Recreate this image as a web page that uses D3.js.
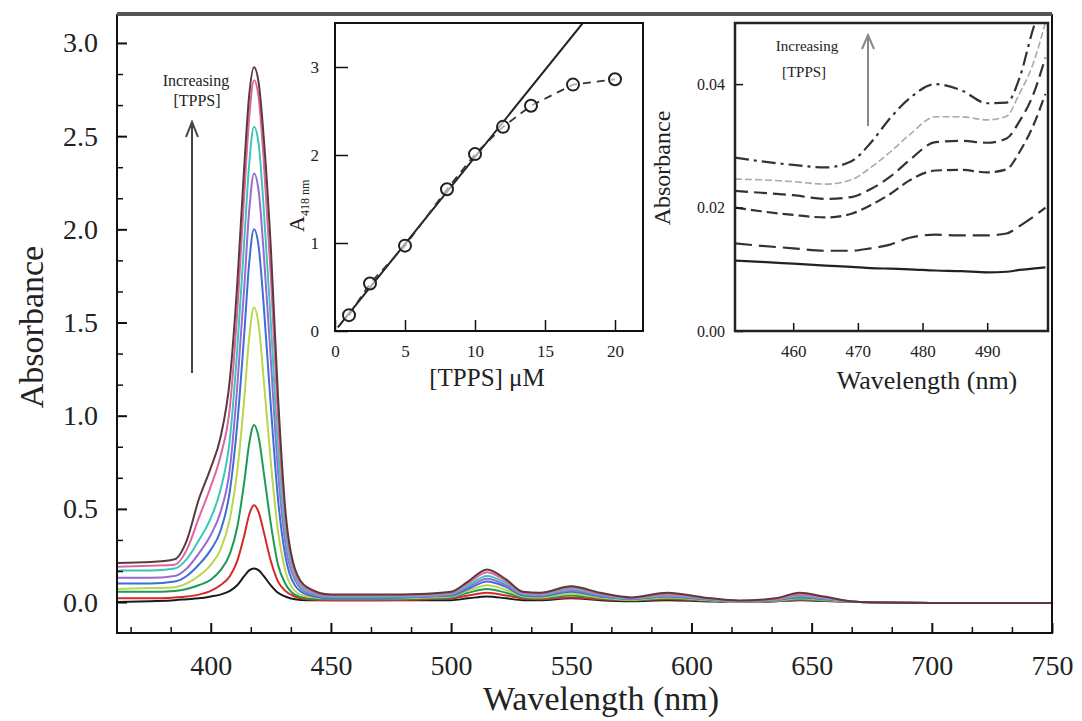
<!DOCTYPE html>
<html><head><meta charset="utf-8">
<script src="https://cdn.jsdelivr.net/npm/d3@7"></script>
<style>
html,body{margin:0;padding:0;background:#fff;}
svg text{font-family:"Liberation Serif","Times New Roman",serif;fill:#222;}
</style></head>
<body>
<svg id="chart" width="1082" height="721"></svg>
<script>
// ---------- DATA ----------
const wavelengths = [361, 375, 385, 390, 395, 400, 404, 408, 411, 414, 416, 418, 420, 422, 425, 428, 431, 435, 440, 450, 470, 490, 500, 507, 515, 523, 530, 537, 550, 562, 575, 590, 605, 620, 635, 645, 655, 670, 700, 750];
const specBlack  = [0.0, 0.005, 0.01, 0.015, 0.02, 0.03, 0.04, 0.06, 0.09, 0.14, 0.17, 0.18, 0.17, 0.14, 0.09, 0.05, 0.03, 0.015, 0.01, 0.01, 0.01, 0.01, 0.01, 0.02, 0.03, 0.02, 0.01, 0.01, 0.02, 0.01, 0.005, 0.01, 0.005, 0.0, 0.004, 0.01, 0.006, 0.0, -0.005, -0.005];
const specRed    = [0.02, 0.02, 0.025, 0.03, 0.04, 0.06, 0.09, 0.14, 0.22, 0.36, 0.47, 0.52, 0.48, 0.38, 0.22, 0.11, 0.06, 0.03, 0.015, 0.01, 0.01, 0.015, 0.02, 0.035, 0.05, 0.035, 0.02, 0.015, 0.025, 0.015, 0.01, 0.015, 0.008, 0.0, 0.005, 0.012, 0.007, 0.0, -0.005, -0.005];
const specGreen  = [0.055, 0.055, 0.06, 0.07, 0.09, 0.12, 0.17, 0.26, 0.4, 0.65, 0.85, 0.95, 0.88, 0.7, 0.42, 0.2, 0.1, 0.04, 0.02, 0.015, 0.015, 0.02, 0.025, 0.05, 0.07, 0.05, 0.025, 0.02, 0.035, 0.02, 0.01, 0.02, 0.01, 0.0, 0.006, 0.015, 0.009, 0.0, -0.005, -0.005];
const specLime   = [0.07, 0.075, 0.08, 0.1, 0.14, 0.2, 0.28, 0.45, 0.7, 1.1, 1.42, 1.58, 1.48, 1.2, 0.75, 0.38, 0.17, 0.06, 0.03, 0.02, 0.02, 0.025, 0.03, 0.06, 0.09, 0.065, 0.03, 0.025, 0.045, 0.025, 0.012, 0.025, 0.012, 0.002, 0.008, 0.02, 0.012, 0.0, -0.005, -0.005];
const specBlue   = [0.1, 0.1, 0.11, 0.14, 0.2, 0.28, 0.38, 0.6, 0.95, 1.45, 1.82, 2.0, 1.9, 1.6, 1.05, 0.55, 0.25, 0.09, 0.04, 0.02, 0.02, 0.03, 0.035, 0.07, 0.11, 0.08, 0.035, 0.03, 0.055, 0.03, 0.015, 0.03, 0.015, 0.003, 0.01, 0.025, 0.015, 0.0, -0.005, -0.005];
const specViolet = [0.13, 0.13, 0.14, 0.18, 0.26, 0.36, 0.48, 0.72, 1.15, 1.7, 2.1, 2.3, 2.2, 1.88, 1.3, 0.7, 0.32, 0.12, 0.05, 0.025, 0.025, 0.03, 0.04, 0.08, 0.125, 0.09, 0.04, 0.035, 0.062, 0.035, 0.018, 0.033, 0.018, 0.004, 0.012, 0.03, 0.018, 0.0, -0.005, -0.005];
const specCyan   = [0.17, 0.17, 0.18, 0.23, 0.33, 0.45, 0.6, 0.88, 1.35, 1.95, 2.35, 2.55, 2.45, 2.12, 1.5, 0.82, 0.38, 0.14, 0.06, 0.03, 0.03, 0.035, 0.045, 0.09, 0.14, 0.1, 0.045, 0.04, 0.07, 0.04, 0.02, 0.037, 0.02, 0.005, 0.014, 0.035, 0.021, 0.0, -0.005, -0.005];
const specPink   = [0.19, 0.195, 0.2, 0.28, 0.45, 0.62, 0.78, 1.05, 1.55, 2.2, 2.6, 2.8, 2.7, 2.38, 1.75, 0.98, 0.45, 0.16, 0.07, 0.035, 0.035, 0.04, 0.05, 0.1, 0.16, 0.11, 0.05, 0.045, 0.078, 0.045, 0.022, 0.042, 0.022, 0.006, 0.016, 0.04, 0.024, 0.0, -0.005, -0.005];
const specBrown  = [0.21, 0.215, 0.23, 0.33, 0.55, 0.72, 0.88, 1.2, 1.7, 2.35, 2.72, 2.87, 2.78, 2.5, 1.9, 1.1, 0.5, 0.18, 0.08, 0.04, 0.04, 0.045, 0.055, 0.11, 0.175, 0.12, 0.055, 0.05, 0.085, 0.05, 0.025, 0.05, 0.025, 0.008, 0.02, 0.05, 0.03, 0.0, -0.005, -0.005];
const spectra = [specBlack, specRed, specGreen, specLime, specBlue, specViolet, specCyan, specPink, specBrown];
const spectraColors = ["#1a1a1a", "#d42a2a", "#1e9a55", "#b9d64c", "#3b6fd6", "#9a6ad2", "#3cc6bd", "#e0649f", "#5b3a3a"];

const mainXTicks = [400, 450, 500, 550, 600, 650, 700, 750];
const mainYTicks = [0.0, 0.5, 1.0, 1.5, 2.0, 2.5, 3.0];

// inset 1: A(418 nm) vs [TPPS]
const tppsConc = [1, 2.5, 5, 8, 10, 12, 14, 17, 20];
const a418 = [0.18, 0.54, 0.97, 1.61, 2.01, 2.32, 2.56, 2.80, 2.86];
const fitConc = [0.2, 17.7];
const fitA = [0.04, 3.5];
const inset1XTicks = [0, 5, 10, 15, 20];
const inset1YTicks = [0, 1, 2, 3];

// inset 2: zoom 451-499 nm
const zoomWl = [451, 455, 460, 465, 469, 472, 475, 478, 482, 486, 490, 493, 495, 497, 499];
const zoom1 = [0.0114, 0.0112, 0.0109, 0.0106, 0.0104, 0.0102, 0.0101, 0.0100, 0.0098, 0.0097, 0.0095, 0.0096, 0.0099, 0.0101, 0.0103];
const zoom2 = [0.0142, 0.0138, 0.0134, 0.0130, 0.0130, 0.0134, 0.0140, 0.0151, 0.0156, 0.0155, 0.0155, 0.0158, 0.0170, 0.0184, 0.0200];
const zoom3 = [0.0200, 0.0194, 0.0188, 0.0184, 0.0190, 0.0204, 0.0222, 0.0244, 0.0260, 0.0261, 0.0257, 0.0262, 0.0290, 0.0330, 0.0384];
const zoom4 = [0.0227, 0.0224, 0.0220, 0.0214, 0.0217, 0.0230, 0.0250, 0.0277, 0.0306, 0.0308, 0.0305, 0.0312, 0.0340, 0.0380, 0.0443];
const zoom5 = [0.0246, 0.0245, 0.0242, 0.0238, 0.0245, 0.0265, 0.0290, 0.0318, 0.0347, 0.0347, 0.0342, 0.0348, 0.0385, 0.0430, 0.0500];
const zoom6 = [0.0281, 0.0275, 0.0269, 0.0265, 0.0275, 0.0305, 0.0345, 0.0377, 0.0400, 0.0390, 0.0369, 0.0370, 0.0410, 0.0486, 0.0550];
const zoomSeries = [zoom1, zoom2, zoom3, zoom4, zoom5, zoom6];
const zoomDash = [null, "17,7", "11,5", "13,6", "7,3", "14,5,3,5"];
const zoomColor = ["#222", "#333", "#333", "#333", "#aaa", "#333"];
const inset2XTicks = [460, 470, 480, 490];
const inset2YTicks = [0.00, 0.02, 0.04];

// ---------- DRAW ----------
const svg = d3.select("#chart");
const serif = '"Liberation Serif","Times New Roman",serif';

// main scales
const L = 117, R = 1052, T = 15, B = 633;
const x = d3.scaleLinear().domain([361, 750]).range([L, R]);
const y = d3.scaleLinear().domain([-0.166, 3.15]).range([B, T]);

const defs = svg.append("defs");
defs.append("clipPath").attr("id", "mainClip").append("rect").attr("x", L).attr("y", T).attr("width", R - L).attr("height", B - T);

const line = d3.line().curve(d3.curveMonotoneX).x(d => x(d[0])).y(d => y(d[1]));
const gCurves = svg.append("g").attr("clip-path", "url(#mainClip)");
spectra.forEach((s, i) => {
  gCurves.append("path")
    .datum(wavelengths.map((w, j) => [w, s[j]]))
    .attr("d", line).attr("fill", "none")
    .attr("stroke", spectraColors[i]).attr("stroke-width", 2);
});

// main axes (ticks inward)
const xMinor = d3.range(0, 24).map(i => 350 + i * 50 / 3).filter(v => v > 361 && v < 750 && Math.abs((v - 400) % 50) > 1 && Math.abs((v - 400) % 50 - 50) > 1);
svg.append("g").attr("transform", `translate(0,${B})`)
  .call(d3.axisBottom(x).tickValues(mainXTicks).tickSize(-10).tickPadding(22).tickFormat(d3.format("d")))
  .call(g => g.select(".domain").remove())
  .call(g => g.selectAll("line").attr("stroke", "#111").attr("stroke-width", 2))
  .call(g => g.selectAll("text").attr("font-size", 28).attr("font-family", serif).attr("fill", "#222"));
svg.append("g").attr("transform", `translate(0,${B})`)
  .call(d3.axisBottom(x).tickValues(xMinor).tickSize(-6).tickFormat(""))
  .call(g => g.select(".domain").remove())
  .call(g => g.selectAll("line").attr("stroke", "#111").attr("stroke-width", 1.5));

const yMinor = d3.range(-1, 20).filter(i => i % 3 !== 0).map(i => i / 6).filter(v => v > -0.166 && v < 3.15);
svg.append("g").attr("transform", `translate(${L},0)`)
  .call(d3.axisLeft(y).tickValues(mainYTicks).tickSize(-10).tickPadding(19).tickFormat(d3.format(".1f")))
  .call(g => g.select(".domain").remove())
  .call(g => g.selectAll("line").attr("stroke", "#111").attr("stroke-width", 2))
  .call(g => g.selectAll("text").attr("font-size", 28).attr("font-family", serif).attr("fill", "#222"));
svg.append("g").attr("transform", `translate(${L},0)`)
  .call(d3.axisLeft(y).tickValues(yMinor).tickSize(-6).tickFormat(""))
  .call(g => g.select(".domain").remove())
  .call(g => g.selectAll("line").attr("stroke", "#111").attr("stroke-width", 1.5));

// main frame
svg.append("rect").attr("x", L).attr("y", T).attr("width", R - L).attr("height", B - T)
  .attr("fill", "none").attr("stroke", "#111").attr("stroke-width", 2);
svg.append("line").attr("x1", L).attr("x2", R).attr("y1", T - 1).attr("y2", T - 1)
  .attr("stroke", "#555").attr("stroke-width", 4);

// main titles
svg.append("text").attr("x", 601).attr("y", 710).attr("text-anchor", "middle")
  .attr("font-size", 34).text("Wavelength (nm)");
svg.append("text").attr("transform", "translate(43,327) rotate(-90)").attr("text-anchor", "middle")
  .attr("font-size", 34).text("Absorbance");

// main annotation
svg.append("text").attr("x", 196).attr("y", 86).attr("text-anchor", "middle").attr("font-size", 16).text("Increasing");
svg.append("text").attr("x", 197).attr("y", 106).attr("text-anchor", "middle").attr("font-size", 16).text("[TPPS]");
svg.append("line").attr("x1", 192).attr("x2", 192).attr("y1", 373).attr("y2", 123).attr("stroke", "#444").attr("stroke-width", 2);
svg.append("path").attr("d", "M186,137 L192,122 L198,137").attr("fill", "none").attr("stroke", "#444").attr("stroke-width", 2);

// ---------- INSET 1 ----------
const i1L = 335, i1R = 643, i1T = 23, i1B = 331;
const x1 = d3.scaleLinear().domain([0, 22]).range([i1L, i1R]);
const y1 = d3.scaleLinear().domain([0, 3.5]).range([i1B, i1T]);
defs.append("clipPath").attr("id", "clip1").append("rect").attr("x", i1L).attr("y", i1T).attr("width", i1R - i1L).attr("height", i1B - i1T);
svg.append("rect").attr("x", i1L).attr("y", i1T).attr("width", i1R - i1L).attr("height", i1B - i1T).attr("fill", "#fff");
const g1 = svg.append("g").attr("clip-path", "url(#clip1)");
g1.append("path").datum(fitConc.map((c, i) => [c, fitA[i]]))
  .attr("d", d3.line().x(d => x1(d[0])).y(d => y1(d[1])))
  .attr("fill", "none").attr("stroke", "#222").attr("stroke-width", 2);
g1.append("path").datum(tppsConc.map((c, i) => [c, a418[i]]))
  .attr("d", d3.line().x(d => x1(d[0])).y(d => y1(d[1])))
  .attr("fill", "none").attr("stroke", "#333").attr("stroke-width", 1.8).attr("stroke-dasharray", "8,6");
g1.selectAll("circle").data(tppsConc.map((c, i) => [c, a418[i]])).join("circle")
  .attr("cx", d => x1(d[0])).attr("cy", d => y1(d[1])).attr("r", 6)
  .attr("fill", "#fff").attr("fill-opacity", 0.6).attr("stroke", "#222").attr("stroke-width", 2);
svg.append("g").attr("transform", `translate(0,${i1B})`)
  .call(d3.axisBottom(x1).tickValues(inset1XTicks).tickSize(-11).tickPadding(14).tickFormat(d3.format("d")))
  .call(g => g.select(".domain").remove())
  .call(g => g.selectAll("line").attr("stroke", "#111").attr("stroke-width", 1.5))
  .call(g => g.selectAll("text").attr("font-size", 17).attr("font-family", serif).attr("fill", "#333"));
svg.append("g").attr("transform", `translate(${i1L},0)`)
  .call(d3.axisLeft(y1).tickValues(inset1YTicks).tickSize(-13).tickPadding(16).tickFormat(d3.format("d")))
  .call(g => g.select(".domain").remove())
  .call(g => g.selectAll("line").attr("stroke", "#111").attr("stroke-width", 1.5))
  .call(g => g.selectAll("text").attr("font-size", 17).attr("font-family", serif).attr("fill", "#333"));
svg.append("rect").attr("x", i1L).attr("y", i1T).attr("width", i1R - i1L).attr("height", i1B - i1T)
  .attr("fill", "none").attr("stroke", "#111").attr("stroke-width", 2);
svg.append("text").attr("x", 487).attr("y", 386).attr("text-anchor", "middle").attr("font-size", 25).text("[TPPS] μM");
const a1 = svg.append("text").attr("transform", "translate(304,232) rotate(-90)").attr("font-size", 22);
a1.append("tspan").text("A");
a1.append("tspan").attr("font-size", 12).attr("dy", 5).text("418 nm");

// ---------- INSET 2 ----------
const i2L = 735, i2R = 1048, i2T = 23, i2B = 331;
const x2 = d3.scaleLinear().domain([451, 499.4]).range([i2L, i2R]);
const y2 = d3.scaleLinear().domain([0, 0.0499]).range([i2B, i2T]);
defs.append("clipPath").attr("id", "clip2").append("rect").attr("x", i2L).attr("y", i2T).attr("width", i2R - i2L).attr("height", i2B - i2T);
svg.append("rect").attr("x", i2L).attr("y", i2T).attr("width", i2R - i2L).attr("height", i2B - i2T).attr("fill", "#fff");
const g2 = svg.append("g").attr("clip-path", "url(#clip2)");
const line2 = d3.line().curve(d3.curveMonotoneX).x(d => x2(d[0])).y(d => y2(d[1]));
zoomSeries.forEach((s, i) => {
  g2.append("path").datum(zoomWl.map((w, j) => [w, s[j]]))
    .attr("d", line2).attr("fill", "none").attr("stroke", zoomColor[i])
    .attr("stroke-width", i === 4 ? 1.6 : 2.2)
    .attr("stroke-dasharray", zoomDash[i]);
});
svg.append("g").attr("transform", `translate(0,${i2B})`)
  .call(d3.axisBottom(x2).tickValues(inset2XTicks).tickSize(-8).tickPadding(14).tickFormat(d3.format("d")))
  .call(g => g.select(".domain").remove())
  .call(g => g.selectAll("line").attr("stroke", "#111").attr("stroke-width", 1.5))
  .call(g => g.selectAll("text").attr("font-size", 17).attr("font-family", serif).attr("fill", "#333"));
svg.append("g").attr("transform", `translate(${i2L},0)`)
  .call(d3.axisLeft(y2).tickValues(inset2YTicks).tickSize(-8).tickPadding(10).tickFormat(d3.format(".2f")))
  .call(g => g.select(".domain").remove())
  .call(g => g.selectAll("line").attr("stroke", "#111").attr("stroke-width", 1.5))
  .call(g => g.selectAll("text").attr("font-size", 16).attr("font-family", serif).attr("fill", "#333"));
svg.append("rect").attr("x", i2L).attr("y", i2T).attr("width", i2R - i2L).attr("height", i2B - i2T)
  .attr("fill", "none").attr("stroke", "#222").attr("stroke-width", 2.5);
svg.append("text").attr("x", 927).attr("y", 389).attr("text-anchor", "middle").attr("font-size", 26).text("Wavelength (nm)");
svg.append("text").attr("transform", "translate(670,168) rotate(-90)").attr("text-anchor", "middle")
  .attr("font-size", 24).text("Absorbance");
svg.append("text").attr("x", 807).attr("y", 51).attr("text-anchor", "middle").attr("font-size", 15).text("Increasing");
svg.append("text").attr("x", 804).attr("y", 77).attr("text-anchor", "middle").attr("font-size", 15).text("[TPPS]");
svg.append("line").attr("x1", 868).attr("x2", 868).attr("y1", 126).attr("y2", 36).attr("stroke", "#888").attr("stroke-width", 2);
svg.append("path").attr("d", "M862,49 L868,35 L874,49").attr("fill", "none").attr("stroke", "#888").attr("stroke-width", 2);
</script>
</body></html>
